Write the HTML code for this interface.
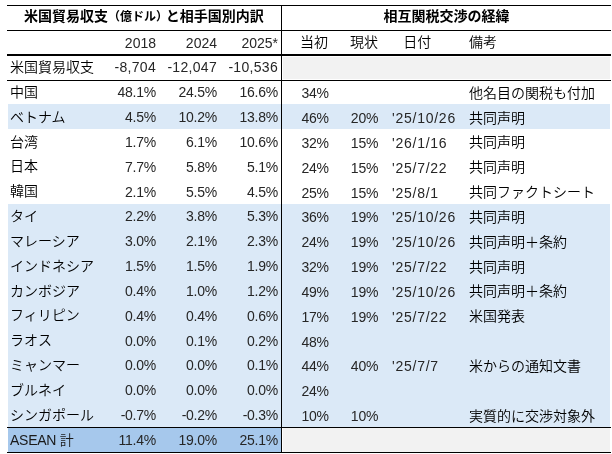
<!DOCTYPE html>
<html lang="ja">
<head>
<meta charset="utf-8">
<title>米国貿易収支と相互関税交渉の経緯</title>
<style>
html,body{margin:0;padding:0;background:#fff;}
body{width:612px;height:454px;position:relative;overflow:hidden;font-family:"Liberation Sans","Noto Sans CJK JP",sans-serif;font-size:14px;color:#000;font-weight:350;}
.r{position:absolute;left:0;width:612px;height:24.833px;line-height:24.833px;white-space:nowrap;}
.r span{position:absolute;top:0;}
.r span.q{top:1.8px;color:#262626;}
.r span.y{top:0.8px;color:#262626;}
.bg{position:absolute;}
.ln{position:absolute;background:#000;}
.n{text-align:right;width:60px;}
.c{text-align:center;width:50px;}
.b{font-weight:bold;}
.d{letter-spacing:0.75px;}
.p{letter-spacing:-0.25px;}
.w{letter-spacing:0.3px;}
</style>
</head>
<body>
<div class="bg" style="left:8px;top:104.33px;width:602px;height:24.83px;background:#dbe9f7"></div>
<div class="bg" style="left:8px;top:203.66px;width:602px;height:223.50px;background:#dbe9f7"></div>
<div class="bg" style="left:8px;top:427.16px;width:274px;height:24.83px;background:#a6c8ec"></div>
<div class="bg" style="left:283px;top:57.00px;width:327px;height:22.00px;background:#f2f2f2"></div>
<div class="bg" style="left:283px;top:428.16px;width:327px;height:23.83px;background:#f2f2f2"></div>
<div class="ln" style="left:7px;top:5.00px;width:604px;height:1px"></div>
<div class="ln" style="left:7px;top:30.00px;width:604px;height:1px"></div>
<div class="ln" style="left:7px;top:54.00px;width:604px;height:2px"></div>
<div class="ln" style="left:7px;top:80.00px;width:604px;height:1px"></div>
<div class="ln" style="left:7px;top:427.00px;width:604px;height:1px"></div>
<div class="ln" style="left:7px;top:451.50px;width:604px;height:1px"></div>
<div class="ln" style="left:281px;top:5.00px;width:1px;height:447px"></div>
<div class="r b" style="top:4.20px"><span style="left:24px">米国貿易収支</span><span style="left:108px;top:0.9px;font-size:12px">（億ドル）</span><span style="left:165.7px">と相手国別内訳</span><span style="left:383.5px">相互関税交渉の経緯</span></div>
<div class="r" style="top:29.83px"><span class="n y" style="left:96px">2018</span><span class="n y" style="left:157px">2024</span><span class="n y" style="left:218px">2025*</span><span class="c" style="left:289px">当初</span><span class="c" style="left:339px">現状</span><span class="c" style="left:392.3px">日付</span><span style="left:469px">備考</span></div>
<div class="r" style="top:54.67px"><span style="left:10px;top:0.4px">米国貿易収支</span><span class="n y w" style="left:96px">-8,704</span><span class="n y w" style="left:157px">-12,047</span><span class="n y w" style="left:218px">-10,536</span></div>
<div class="r" style="top:79.50px"><span style="left:10px;top:0.4px">中国</span><span class="n y p" style="left:96px">48.1%</span><span class="n y p" style="left:157px">24.5%</span><span class="n y p" style="left:218px">16.6%</span><span class="c q p" style="left:290.2px">34%</span><span style="left:469px;top:1.2px">他名目の関税も付加</span></div>
<div class="r" style="top:104.33px"><span style="left:10px;top:0.4px">ベトナム</span><span class="n y p" style="left:96px">4.5%</span><span class="n y p" style="left:157px">10.2%</span><span class="n y p" style="left:218px">13.8%</span><span class="c q p" style="left:290.2px">46%</span><span class="c q p" style="left:339.5px">20%</span><span class="d q" style="left:392px">'25/10/26</span><span style="left:469px;top:1.2px">共同声明</span></div>
<div class="r" style="top:129.16px"><span style="left:10px;top:0.4px">台湾</span><span class="n y p" style="left:96px">1.7%</span><span class="n y p" style="left:157px">6.1%</span><span class="n y p" style="left:218px">10.6%</span><span class="c q p" style="left:290.2px">32%</span><span class="c q p" style="left:339.5px">15%</span><span class="d q" style="left:392px">'26/1/16</span><span style="left:469px;top:1.2px">共同声明</span></div>
<div class="r" style="top:154.00px"><span style="left:10px;top:0.4px">日本</span><span class="n y p" style="left:96px">7.7%</span><span class="n y p" style="left:157px">5.8%</span><span class="n y p" style="left:218px">5.1%</span><span class="c q p" style="left:290.2px">24%</span><span class="c q p" style="left:339.5px">15%</span><span class="d q" style="left:392px">'25/7/22</span><span style="left:469px;top:1.2px">共同声明</span></div>
<div class="r" style="top:178.83px"><span style="left:10px;top:0.4px">韓国</span><span class="n y p" style="left:96px">2.1%</span><span class="n y p" style="left:157px">5.5%</span><span class="n y p" style="left:218px">4.5%</span><span class="c q p" style="left:290.2px">25%</span><span class="c q p" style="left:339.5px">15%</span><span class="d q" style="left:392px">'25/8/1</span><span style="left:469px;top:1.2px">共同ファクトシート</span></div>
<div class="r" style="top:203.66px"><span style="left:10px;top:0.4px">タイ</span><span class="n y p" style="left:96px">2.2%</span><span class="n y p" style="left:157px">3.8%</span><span class="n y p" style="left:218px">5.3%</span><span class="c q p" style="left:290.2px">36%</span><span class="c q p" style="left:339.5px">19%</span><span class="d q" style="left:392px">'25/10/26</span><span style="left:469px;top:1.2px">共同声明</span></div>
<div class="r" style="top:228.50px"><span style="left:10px;top:0.4px">マレーシア</span><span class="n y p" style="left:96px">3.0%</span><span class="n y p" style="left:157px">2.1%</span><span class="n y p" style="left:218px">2.3%</span><span class="c q p" style="left:290.2px">24%</span><span class="c q p" style="left:339.5px">19%</span><span class="d q" style="left:392px">'25/10/26</span><span style="left:469px;top:1.2px">共同声明＋条約</span></div>
<div class="r" style="top:253.33px"><span style="left:10px;top:0.4px">インドネシア</span><span class="n y p" style="left:96px">1.5%</span><span class="n y p" style="left:157px">1.5%</span><span class="n y p" style="left:218px">1.9%</span><span class="c q p" style="left:290.2px">32%</span><span class="c q p" style="left:339.5px">19%</span><span class="d q" style="left:392px">'25/7/22</span><span style="left:469px;top:1.2px">共同声明</span></div>
<div class="r" style="top:278.16px"><span style="left:10px;top:0.4px">カンボジア</span><span class="n y p" style="left:96px">0.4%</span><span class="n y p" style="left:157px">1.0%</span><span class="n y p" style="left:218px">1.2%</span><span class="c q p" style="left:290.2px">49%</span><span class="c q p" style="left:339.5px">19%</span><span class="d q" style="left:392px">'25/10/26</span><span style="left:469px;top:1.2px">共同声明＋条約</span></div>
<div class="r" style="top:303.00px"><span style="left:10px;top:0.4px">フィリピン</span><span class="n y p" style="left:96px">0.4%</span><span class="n y p" style="left:157px">0.4%</span><span class="n y p" style="left:218px">0.6%</span><span class="c q p" style="left:290.2px">17%</span><span class="c q p" style="left:339.5px">19%</span><span class="d q" style="left:392px">'25/7/22</span><span style="left:469px;top:1.2px">米国発表</span></div>
<div class="r" style="top:327.83px"><span style="left:10px;top:0.4px">ラオス</span><span class="n y p" style="left:96px">0.0%</span><span class="n y p" style="left:157px">0.1%</span><span class="n y p" style="left:218px">0.2%</span><span class="c q p" style="left:290.2px">48%</span></div>
<div class="r" style="top:352.66px"><span style="left:10px;top:0.4px">ミャンマー</span><span class="n y p" style="left:96px">0.0%</span><span class="n y p" style="left:157px">0.0%</span><span class="n y p" style="left:218px">0.1%</span><span class="c q p" style="left:290.2px">44%</span><span class="c q p" style="left:339.5px">40%</span><span class="d q" style="left:392px">'25/7/7</span><span style="left:469px;top:1.2px">米からの通知文書</span></div>
<div class="r" style="top:377.50px"><span style="left:10px;top:0.4px">ブルネイ</span><span class="n y p" style="left:96px">0.0%</span><span class="n y p" style="left:157px">0.0%</span><span class="n y p" style="left:218px">0.0%</span><span class="c q p" style="left:290.2px">24%</span></div>
<div class="r" style="top:402.33px"><span style="left:10px;top:0.4px">シンガポール</span><span class="n y p" style="left:96px">-0.7%</span><span class="n y p" style="left:157px">-0.2%</span><span class="n y p" style="left:218px">-0.3%</span><span class="c q p" style="left:290.2px">10%</span><span class="c q p" style="left:339.5px">10%</span><span style="left:469px;top:1.2px">実質的に交渉対象外</span></div>
<div class="r" style="top:427.16px"><span style="left:10px;top:1px;letter-spacing:-0.25px;color:#1a1a1a">ASEAN 計</span><span class="n y p" style="left:96px">11.4%</span><span class="n y p" style="left:157px">19.0%</span><span class="n y p" style="left:218px">25.1%</span></div>
</body>
</html>
